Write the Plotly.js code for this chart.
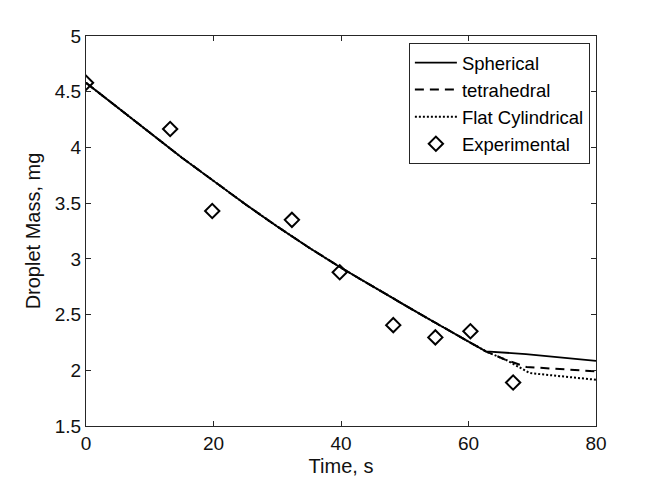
<!DOCTYPE html>
<html>
<head>
<meta charset="utf-8">
<script src="https://cdn.plot.ly/plotly-3.0.1.min.js"></script>
<style>
  body { margin: 0; background: white; }
  #myDiv { width: 658px; height: 494px; }
</style>
</head>
<body>
<div id="myDiv"></div>
<script>
// model curves (time in s, mass in mg)
var modelTime = [0, 5, 10, 15, 20, 25, 30, 35, 40, 45, 50, 55, 60, 62.7];
var modelMass = [4.58, 4.355, 4.13, 3.91, 3.70, 3.49, 3.29, 3.10, 2.92, 2.75, 2.585, 2.42, 2.26, 2.17];

var sphTime = [69, 80];
var sphMass = [2.145, 2.085];

var tetTime = [66, 69.1, 80];
var tetMass = [2.09, 2.03, 1.99];

var cylTime = [66, 69.6, 80];
var cylMass = [2.09, 1.975, 1.915];

var expTime = [0, 13.2, 19.8, 32.3, 39.8, 48.2, 54.8, 60.3, 67];
var expMass = [4.58, 4.165, 3.43, 3.35, 2.88, 2.405, 2.295, 2.35, 1.89];

var trace1 = {
  x: modelTime.concat(sphTime),
  y: modelMass.concat(sphMass),
  type: 'scatter',
  mode: 'lines',
  name: 'Spherical',
  line: { color: 'black', width: 1.8, dash: 'solid' }
};

var trace2 = {
  x: modelTime.concat(tetTime),
  y: modelMass.concat(tetMass),
  type: 'scatter',
  mode: 'lines',
  name: 'tetrahedral',
  line: { color: 'black', width: 2, dash: '9px,6px' }
};

var trace3 = {
  x: modelTime.concat(cylTime),
  y: modelMass.concat(cylMass),
  type: 'scatter',
  mode: 'lines',
  name: 'Flat Cylindrical',
  line: { color: 'black', width: 2, dash: '2px,2px' }
};

var trace4 = {
  x: expTime,
  y: expMass,
  type: 'scatter',
  mode: 'markers',
  name: 'Experimental',
  marker: {
    symbol: 'diamond-open',
    color: 'black',
    size: 11,
    line: { color: 'black', width: 2 }
  }
};

var data = [trace1, trace2, trace3, trace4];

var layout = {
  width: 658,
  height: 494,
  margin: { l: 86, r: 62, t: 36, b: 68 },
  paper_bgcolor: 'white',
  plot_bgcolor: 'white',
  font: { family: 'Liberation Sans, Arial, sans-serif', color: '#111111', size: 19 },
  showlegend: true,
  legend: {
    x: 0.988, xanchor: 'right',
    y: 0.982, yanchor: 'top',
    bgcolor: 'white',
    bordercolor: '#262626',
    borderwidth: 1,
    itemwidth: 42,
    font: { size: 18.5, color: 'black' },
    tracegroupgap: 0
  },
  xaxis: {
    range: [0, 80],
    tickvals: [0, 20, 40, 60, 80],
    showgrid: false,
    zeroline: false,
    showline: true,
    linecolor: '#262626',
    linewidth: 1,
    mirror: 'ticks',
    ticks: 'inside',
    ticklen: 5,
    tickcolor: '#262626',
    title: { text: 'Time, s', font: { size: 20 }, standoff: 6 }
  },
  yaxis: {
    range: [1.5, 5],
    tickvals: [1.5, 2, 2.5, 3, 3.5, 4, 4.5, 5],
    ticktext: ['1.5', '2', '2.5', '3', '3.5', '4', '4.5', '5'],
    showgrid: false,
    zeroline: false,
    showline: true,
    linecolor: '#262626',
    linewidth: 1,
    mirror: 'ticks',
    ticks: 'inside',
    ticklen: 5,
    tickcolor: '#262626',
    title: { text: 'Droplet Mass, mg', font: { size: 20 }, standoff: 8 }
  }
};

var config = {
  displayModeBar: false
};

Plotly.newPlot('myDiv', data, layout, config);
</script>
</body>
</html>
